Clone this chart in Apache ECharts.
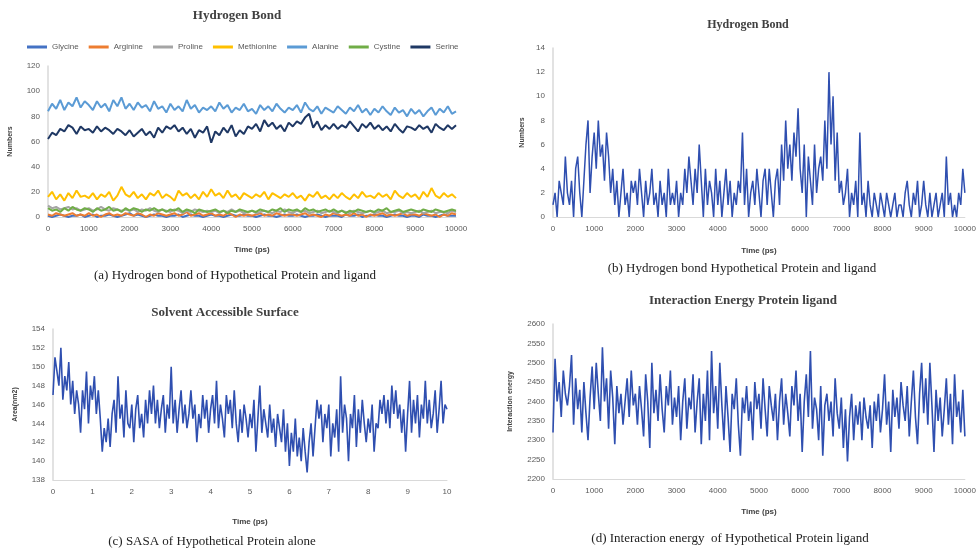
<!DOCTYPE html>
<html>
<head>
<meta charset="utf-8">
<script src="https://cdn.jsdelivr.net/npm/echarts@6/dist/echarts.min.js"></script>
<style>
  html, body { margin: 0; padding: 0; background: #fff; }
  #chart { width: 979px; height: 555px; }
</style>
</head>
<body>
<div id="chart"></div>
<script>
// (a) hydrogen bonds per residue, sampled every 100 ps
const stepA = 100;
const glycine = [1,0,1,2,1,0,1,1,2,0, 1,2,0,1,1,2,1,0,1,2, 3,1,2,1,0,1,2,1,1,0, 1,1,2,0,1,2,1,1,0,1,
  2,1,1,0,1,2,1,1,2,1, 1,0,1,2,1,1,0,1,2,1, 1,2,1,0,1,1,2,1,0,1, 1,1,0,2,1,1,2,0,1,1,
  2,1,1,0,1,2,1,1,0,1, 1,0,2,1,1,0,1,2,1,1, 1];
const arginine = [2,1,3,2,1,2,3,1,2,1, 3,1,2,0,2,3,1,2,1,3, 2,1,3,2,0,2,1,3,2,1, 2,3,1,2,4,1,2,3,1,2,
  3,1,2,1,3,2,0,2,1,2, 1,2,3,1,2,1,3,2,1,2, 2,1,2,3,1,2,1,0,2,1, 3,2,1,2,1,3,1,2,0,2,
  1,2,3,1,2,1,2,3,1,2, 2,1,3,2,1,2,0,2,1,3, 2];
const proline = [9,7,8,6,7,8,6,7,5,6, 7,5,6,8,6,5,7,6,5,6, 5,6,4,6,5,7,5,4,6,5, 4,6,5,3,5,4,6,5,4,5,
  4,5,3,5,4,6,4,5,3,4, 5,3,4,5,4,3,5,4,6,4, 3,5,4,5,3,4,5,3,4,5, 4,3,5,4,3,5,4,3,4,5,
  3,4,5,3,4,4,5,3,4,3, 4,5,3,4,5,3,4,4,3,5, 4];
const methionine = [16,20,14,18,13,19,15,21,16,17, 15,19,14,18,16,20,13,17,24,18, 16,20,15,18,14,19,17,21,15,18,
  16,13,21,17,19,15,18,14,20,16, 22,17,19,15,21,16,18,14,19,17, 15,18,16,20,14,19,17,15,18,16,
  19,15,17,13,18,16,20,15,17,14, 18,15,19,16,14,18,15,20,16,17, 15,19,16,18,14,21,17,15,19,16,
  18,14,20,16,23,17,15,19,16,18, 15];
const alanine = [84,90,86,93,85,91,88,95,87,92, 89,85,92,87,90,84,93,88,95,86, 90,85,91,87,89,84,92,86,88,83,
  90,85,88,84,93,86,89,83,87,85, 88,84,91,86,89,83,87,85,90,84, 86,82,89,85,88,84,90,86,83,87,
  85,89,83,91,86,84,88,82,87,85, 83,88,85,82,87,84,89,83,86,81, 86,83,88,84,81,87,83,85,80,86,
  82,85,80,84,87,81,86,83,88,82, 84];
const cystine = [7,5,6,4,7,5,8,6,5,7, 6,4,7,5,6,8,5,6,4,7, 5,7,6,4,6,5,7,5,6,4, 6,5,7,4,6,5,3,6,5,4,
  5,6,4,5,3,5,4,6,5,4, 5,4,6,5,4,6,5,7,4,6, 5,6,4,7,5,6,4,5,6,4, 6,4,5,3,5,4,6,5,4,5,
  4,6,5,7,4,5,6,4,5,6, 5,4,6,5,4,6,5,4,5,6, 5];
const serine = [62,67,65,70,68,73,71,66,72,69, 70,67,72,68,71,69,66,70,68,65, 69,64,67,70,65,68,63,71,67,72,
  70,73,68,71,66,70,63,69,67,72, 59,68,65,71,67,73,64,69,66,72, 70,74,68,77,72,75,70,73,68,75,
  72,76,74,79,82,71,76,69,73,70, 74,70,73,71,76,72,68,74,71,75, 70,73,69,72,68,74,70,67,72,71,
  69,73,70,72,67,74,71,69,73,70, 73];

// (b) hydrogen bonds protein-ligand, sampled every 50 ps
const stepB = 50;
const hbondLigand = [1,2,0,3,2,1,5,2,1,3, 0,4,5,2,0,3,6,8,2,5, 7,4,8,5,6,3,7,5,2,4, 1,3,0,2,4,1,2,0,3,2,
  3,1,4,2,0,3,1,2,4,1, 2,0,3,1,2,0,4,1,2,1, 3,0,2,1,4,2,5,3,1,4, 2,6,3,0,4,1,3,2,0,4,
  1,3,0,2,4,1,3,0,2,1, 3,2,7,1,4,0,2,3,1,4, 2,0,3,4,1,4,2,0,3,4, 1,6,3,8,4,6,3,7,5,9,
  4,2,6,0,5,3,1,6,2,4, 5,3,8,4,12,6,10,3,7,2, 3,1,2,4,0,2,1,3,0,7, 1,2,0,3,1,0,2,1,0,2,
  1,0,2,1,0,1,2,0,1,1, 0,2,3,1,0,2,1,3,0,1, 3,1,0,2,0,1,2,0,1,2, 0,5,1,2,0,1,0,2,1,4, 2];

// (c) SASA, sampled every 0.05
const stepC = 0.05;
const sasa = [147.0,151.0,149.5,148.0,152.0,146.5,149.0,147.5,150.5,146.0,
  148.5,145.0,147.5,146.0,143.0,147.5,145.5,149.5,144.0,148.0,
  146.5,149.0,145.0,147.5,144.5,141.0,143.5,142.0,144.5,141.5,
  145.0,146.5,143.0,149.0,144.5,146.0,142.5,147.5,144.0,143.5,
  146.0,142.0,145.5,147.0,143.5,145.0,142.5,146.5,144.0,147.5,
  145.0,148.0,144.0,146.5,143.5,145.5,147.0,143.0,146.0,144.5,
  150.0,144.0,146.5,143.0,145.5,147.5,144.0,146.0,143.5,145.0,
  147.5,144.5,146.0,142.0,145.0,143.5,147.0,144.5,146.5,143.0,
  145.5,147.0,144.0,148.5,143.5,146.0,144.5,142.5,147.0,145.0,
  146.5,143.5,147.5,144.0,142.0,145.5,143.0,146.0,144.5,142.5,
  145.0,143.5,146.5,141.0,144.5,148.0,143.0,145.5,144.0,142.5,
  146.0,143.0,144.5,141.5,145.0,143.5,142.0,145.5,141.0,144.0,
  139.5,143.0,141.0,144.5,140.5,142.5,140.0,143.5,141.0,138.8,
  142.0,144.0,140.5,143.5,146.5,144.5,146.0,142.0,145.0,143.5,
  146.0,140.5,144.0,142.5,145.5,141.0,149.0,143.0,146.0,144.5,
  140.0,145.0,143.5,147.0,141.5,145.5,143.0,146.5,144.0,142.0,
  144.5,143.0,146.0,141.0,144.0,143.5,146.5,145.0,147.0,144.0,
  146.5,143.5,148.0,145.0,147.5,144.5,146.0,143.0,145.5,141.0,
  145.0,148.5,143.0,146.5,144.0,147.0,142.5,146.0,144.5,148.5,
  144.0,146.5,143.5,145.0,147.5,143.0,145.5,148.5,144.0,146.0,
  145.5];

// (d) interaction energy, sampled every 50 ps
const stepD = 50;
const energy = [2320,2510,2400,2450,2360,2480,2420,2390,2440,2520, 2340,2460,2380,2430,2320,2450,2370,2300,2410,2490,
  2380,2500,2420,2350,2540,2400,2460,2330,2480,2410, 2290,2440,2370,2420,2340,2400,2460,2360,2480,2390,
  2420,2340,2440,2380,2310,2470,2400,2280,2500,2370, 2430,2350,2470,2380,2320,2440,2390,2480,2340,2410,
  2360,2440,2300,2400,2460,2330,2410,2380,2470,2320, 2400,2460,2290,2420,2350,2480,2300,2530,2370,2440,
  2330,2500,2390,2300,2440,2360,2270,2420,2380,2460, 2340,2260,2410,2370,2440,2350,2400,2300,2450,2380,
  2420,2330,2460,2380,2310,2440,2390,2350,2420,2300, 2400,2460,2340,2420,2370,2310,2440,2390,2480,2350,
  2420,2270,2400,2470,2360,2530,2330,2410,2380,2300, 2440,2260,2390,2420,2350,2400,2310,2460,2370,2330,
  2410,2280,2380,2245,2360,2420,2300,2390,2340,2400, 2300,2410,2360,2330,2390,2280,2400,2350,2420,2320,
  2380,2470,2340,2400,2270,2430,2360,2410,2330,2450, 2390,2350,2440,2310,2400,2480,2360,2290,2420,2500,
  2370,2460,2340,2500,2390,2270,2430,2350,2410,2310, 2380,2460,2340,2420,2290,2470,2360,2400,2320,2430,
  2310];

const seriesA = [
  { name: 'Glycine', data: glycine, color: '#4472c4' },
  { name: 'Arginine', data: arginine, color: '#ed7d31' },
  { name: 'Proline', data: proline, color: '#a5a5a5' },
  { name: 'Methionine', data: methionine, color: '#ffc000' },
  { name: 'Alanine', data: alanine, color: '#5b9bd5' },
  { name: 'Cystine', data: cystine, color: '#70ad47' },
  { name: 'Serine', data: serine, color: '#1f3864' }
];

function pairs(values, step) {
  return values.map((v, i) => [+(i * step).toFixed(3), v]);
}

const serif = '"Liberation Serif", "Times New Roman", serif';
const sans = '"Liberation Sans", Arial, sans-serif';
const lineBlue = '#2f4fb0';

function xAx(idx, max, interval, gap) {
  return {
    type: 'value', gridIndex: idx, min: 0, max: max, interval: interval,
    name: 'Time (ps)', nameLocation: 'middle', nameGap: gap,
    nameTextStyle: { fontFamily: sans, fontSize: 8, fontWeight: 'bold', color: '#404040' },
    axisLine: { show: true, lineStyle: { color: '#d9d9d9', width: 1 } },
    axisTick: { show: false },
    axisLabel: { fontFamily: sans, fontSize: 8, color: '#595959', margin: 8, formatter: v => String(v) },
    splitLine: { show: false }
  };
}

function yAx(idx, min, max, interval, name, gap) {
  return {
    type: 'value', gridIndex: idx, min: min, max: max, interval: interval,
    name: name, nameLocation: 'middle', nameGap: gap,
    nameTextStyle: { fontFamily: sans, fontSize: 7, fontWeight: 'bold', color: '#404040' },
    axisLine: { show: true, lineStyle: { color: '#d9d9d9', width: 1.5 } },
    axisTick: { show: false },
    axisLabel: { fontFamily: sans, fontSize: 8, color: '#595959', margin: 8, formatter: v => String(v) },
    splitLine: { show: false }
  };
}

function title(text, x, y, size, bold) {
  return {
    text: text, left: x, top: y, textAlign: 'center', padding: 0,
    textStyle: { fontFamily: serif, fontSize: size, fontWeight: bold ? 'bold' : 'normal', color: bold ? '#404040' : '#222' }
  };
}

const chart = echarts.init(document.getElementById('chart'));

const series = seriesA.map(s => ({
  name: s.name, type: 'line', xAxisIndex: 0, yAxisIndex: 0,
  data: pairs(s.data, stepA), showSymbol: false, color: s.color,
  lineStyle: { width: 2, color: s.color }, animation: false
}));
series.push(
  { type: 'line', xAxisIndex: 1, yAxisIndex: 1, data: pairs(hbondLigand, stepB), showSymbol: false,
    lineStyle: { width: 1.5, color: lineBlue }, animation: false },
  { type: 'line', xAxisIndex: 2, yAxisIndex: 2, data: pairs(sasa, stepC), showSymbol: false,
    lineStyle: { width: 1.6, color: lineBlue }, animation: false },
  { type: 'line', xAxisIndex: 3, yAxisIndex: 3, data: pairs(energy, stepD), showSymbol: false,
    lineStyle: { width: 1.6, color: lineBlue }, animation: false }
);

chart.setOption({
  backgroundColor: '#fff',
  animation: false,
  title: [
    title('Hydrogen Bond', 237, 9, 13, true),
    title('Hydrogen Bond', 748, 19, 12, true),
    title('Solvent Accessible Surface', 225, 306, 13, true),
    title('Interaction Energy Protein ligand', 743, 294, 13, true),
    title('(a) Hydrogen bond of Hypothetical Protein and ligand', 235, 269, 13, false),
    title('(b) Hydrogen bond Hypothetical Protein and ligand', 742, 262, 13, false),
    title('(c) SASA of Hypothetical Protein alone', 212, 535, 13, false),
    title('(d) Interaction energy  of Hypothetical Protein ligand', 730, 532, 13, false)
  ],
  legend: {
    left: 22, top: 38, itemWidth: 20, itemHeight: 3, itemGap: 10, icon: 'rect',
    data: seriesA.map(s => s.name),
    textStyle: { fontFamily: sans, fontSize: 8, color: '#595959' }
  },
  grid: [
    { left: 48, top: 66, width: 408, height: 151 },
    { left: 553, top: 48, width: 414, height: 169 },
    { left: 53, top: 329, width: 394, height: 151 },
    { left: 553, top: 324, width: 413, height: 155 }
  ],
  xAxis: [
    xAx(0, 10000, 1000, 29),
    xAx(1, 10000, 1000, 30),
    xAx(2, 10, 1, 38),
    xAx(3, 10000, 1000, 29)
  ],
  yAxis: [
    yAx(0, 0, 120, 20, 'Numbers', 34),
    yAx(1, 0, 14, 2, 'Numbers', 27),
    yAx(2, 138, 154, 2, 'Area(nm2)', 34),
    yAx(3, 2200, 2600, 50, 'Interaction energy', 39)
  ],
  series: series
});
</script>
</body>
</html>
